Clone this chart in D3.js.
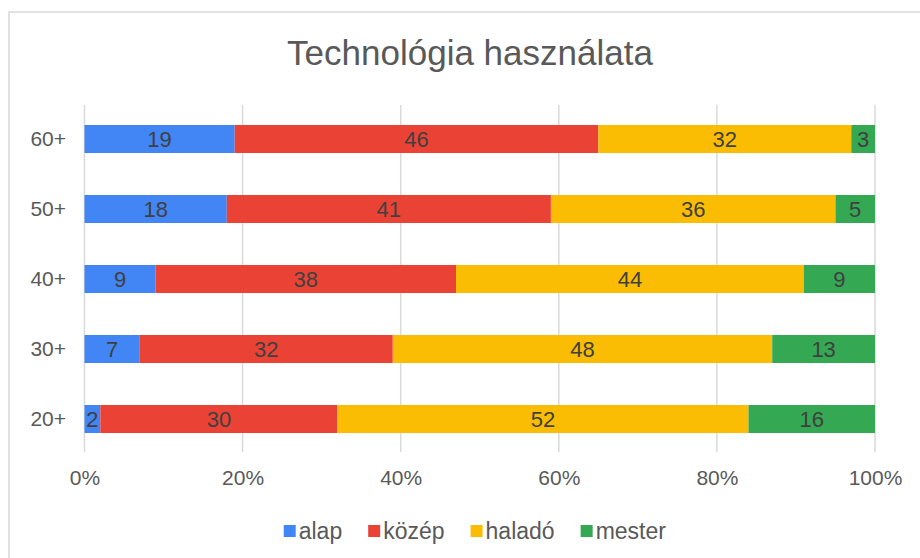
<!DOCTYPE html>
<html>
<head>
<meta charset="utf-8">
<script src="https://cdn.jsdelivr.net/npm/d3@7"></script>
<style>
  body { margin: 0; background: #fff; }
  svg text { font-family: "Liberation Sans", Arial, sans-serif; }
</style>
</head>
<body>
<svg id="chart" width="920" height="558"></svg>
<script>
// data
var groups = ["60+", "50+", "40+", "30+", "20+"];
var levels = ["alap", "közép", "haladó", "mester"];
var alap   = [19, 18, 9, 7, 2];
var kozep  = [46, 41, 38, 32, 30];
var halado = [32, 36, 44, 48, 52];
var mester = [3, 5, 9, 13, 16];
var ticks = [0, 0.2, 0.4, 0.6, 0.8, 1];
var colors = ["#4285F4", "#EA4335", "#FBBC04", "#34A853"];

var rows = groups.map(function(g, i) {
    return { group: g, "alap": alap[i], "közép": kozep[i], "haladó": halado[i], "mester": mester[i] };
});

var svg = d3.select("#chart");

// chart frame (runs off the right and bottom edge)
svg.append("rect")
    .attr("x", 9).attr("y", 12)
    .attr("width", 940).attr("height", 580)
    .attr("fill", "none")
    .attr("stroke", "#d9d9d9")
    .attr("stroke-width", 1.5);

svg.append("text")
    .attr("x", 470).attr("y", 65)
    .attr("text-anchor", "middle")
    .attr("font-size", 35)
    .attr("fill", "#595959")
    .text("Technológia használata");

var xScale = d3.scaleLinear().domain([0, 1]).range([84.5, 875]);
var yScale = d3.scaleBand().domain(groups).range([104, 454]).paddingInner(0.6).paddingOuter(0.3);
var color = d3.scaleOrdinal().domain(levels).range(colors);

// gridlines
svg.append("g")
    .selectAll("line")
    .data(ticks)
    .enter().append("line")
    .attr("x1", d => xScale(d)).attr("x2", d => xScale(d))
    .attr("y1", 105).attr("y2", 452)
    .attr("stroke", "#d9d9d9")
    .attr("stroke-width", 1.5);

var stack = d3.stack().keys(levels).offset(d3.stackOffsetExpand);
var series = stack(rows);

var layers = svg.append("g")
    .selectAll("g")
    .data(series)
    .enter().append("g")
    .attr("fill", d => color(d.key));

layers.selectAll("rect")
    .data(d => d)
    .enter().append("rect")
    .attr("x", d => xScale(d[0]))
    .attr("y", d => yScale(d.data.group))
    .attr("width", d => xScale(d[1]) - xScale(d[0]))
    .attr("height", yScale.bandwidth());

// value labels
series.forEach(function(s) {
    svg.append("g")
        .selectAll("text")
        .data(s)
        .enter().append("text")
        .attr("x", d => (xScale(d[0]) + xScale(d[1])) / 2)
        .attr("y", d => yScale(d.data.group) + yScale.bandwidth() / 2)
        .attr("dy", "0.36em")
        .attr("text-anchor", "middle")
        .attr("font-size", 22)
        .attr("fill", "#404040")
        .text(d => d.data[s.key]);
});

// x axis labels
var xAxis = svg.append("g")
    .attr("transform", "translate(0,470)")
    .call(d3.axisBottom(xScale).tickValues(ticks).tickFormat(d3.format(".0%")).tickSize(0).tickPadding(0));
xAxis.select(".domain").remove();
xAxis.selectAll("text")
    .attr("font-size", 21)
    .attr("fill", "#595959")
    .attr("font-family", null);

// y axis labels
var yAxis = svg.append("g")
    .attr("transform", "translate(66,0)")
    .call(d3.axisLeft(yScale).tickSize(0).tickPadding(0));
yAxis.select(".domain").remove();
yAxis.selectAll("text")
    .attr("font-size", 21)
    .attr("fill", "#595959")
    .attr("font-family", null);

// legend
var legend = svg.append("g").attr("transform", "translate(0,531)");
var items = legend.selectAll("g")
    .data(levels)
    .enter().append("g");
items.append("rect")
    .attr("y", -6)
    .attr("width", 12).attr("height", 12)
    .attr("fill", d => color(d));
items.append("text")
    .attr("x", 15)
    .attr("dy", "0.36em")
    .attr("font-size", 23)
    .attr("fill", "#595959")
    .text(d => d);

var offset = 0, positions = [];
items.each(function() {
    positions.push(offset);
    offset += this.getBBox().width + 26;
});
var total = offset - 26;
var start = 475 - total / 2;
items.attr("transform", (d, i) => "translate(" + (start + positions[i]) + ",0)");
</script>
</body>
</html>
